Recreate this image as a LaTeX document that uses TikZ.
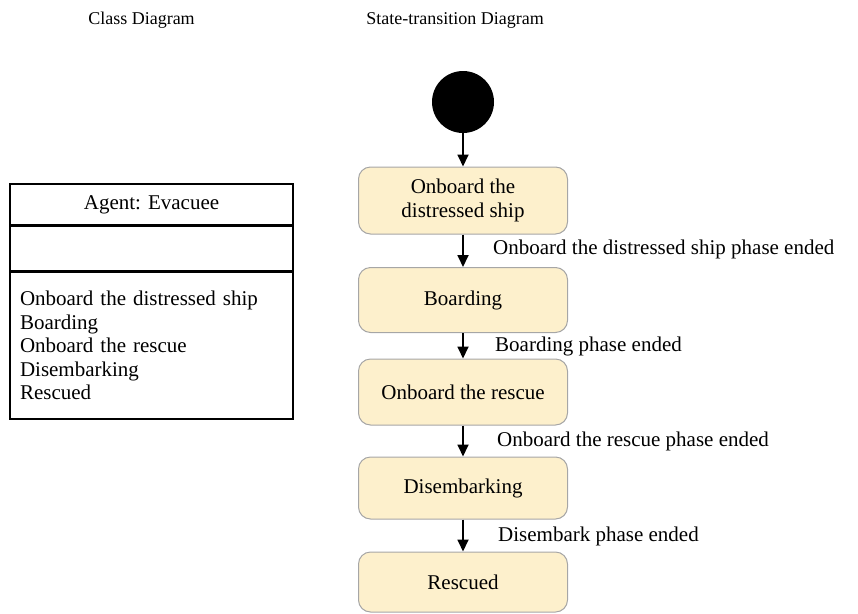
\documentclass[tikz,border=0pt]{standalone}
\usepackage{fontspec}
\setmainfont{Liberation Serif}
\usetikzlibrary{arrows.meta}
\definecolor{statefill}{HTML}{FDF0CC}
\definecolor{stateline}{HTML}{A6A6A6}
\begin{document}
\begin{tikzpicture}[x=1pt,y=-1pt,
  every node/.style={font=\fontsize{21}{23.6}\selectfont, inner sep=0pt},
  titletext/.style={font=\fontsize{18}{22}\selectfont},
  statebox/.style={draw=stateline, line width=1pt, fill=statefill, rounded corners=12pt,
    minimum width=209pt, align=center},
  trans/.style={-{Triangle[length=12pt,width=11pt]}, line width=1.8pt},
  tlabel/.style={anchor=west},
  classpart/.style={draw=black, line width=1.5pt, minimum width=283pt}
]
\useasboundingbox (0,0) rectangle (858,613);
% titles
\node[titletext] (t1) at (141.5,20) {Class Diagram};
\node[titletext] (t2) at (455,20) {State-transition Diagram};
% class diagram
\node[classpart, minimum height=41pt] (c1) at (151.5,204.5) {Agent: Evacuee};
\node[classpart, minimum height=44pt, anchor=north] (c2) at (c1.south) {};
\node[classpart, minimum height=147pt, anchor=north, align=left, text width=263pt] (c3) at (c2.south)
  {Onboard the distressed ship\\Boarding\\Onboard the rescue\\Disembarking\\Rescued};
% state diagram
\node[circle, fill=black, minimum size=62pt] (init) at (463,102) {};
\node[statebox, minimum height=67pt] (s1) at (463,200.5) {Onboard the\\distressed ship};
\node[statebox, minimum height=65pt] (s2) at (463,300) {Boarding};
\node[statebox, minimum height=66pt] (s3) at (463,392) {Onboard the rescue};
\node[statebox, minimum height=62pt] (s4) at (463,488) {Disembarking};
\node[statebox, minimum height=60pt] (s5) at (463,582) {Rescued};
\draw[trans] (init) -- (s1);
\draw[trans] (s1) -- (s2);
\draw[trans] (s2) -- (s3);
\draw[trans] (s3) -- (s4);
\draw[trans] (s4) -- (s5);
\node[tlabel] (l1) at (493,249) {Onboard the distressed ship phase ended};
\node[tlabel] (l2) at (495,346) {Boarding phase ended};
\node[tlabel] (l3) at (497,441) {Onboard the rescue phase ended};
\node[tlabel] (l4) at (498,536) {Disembark phase ended};
\end{tikzpicture}
\end{document}
